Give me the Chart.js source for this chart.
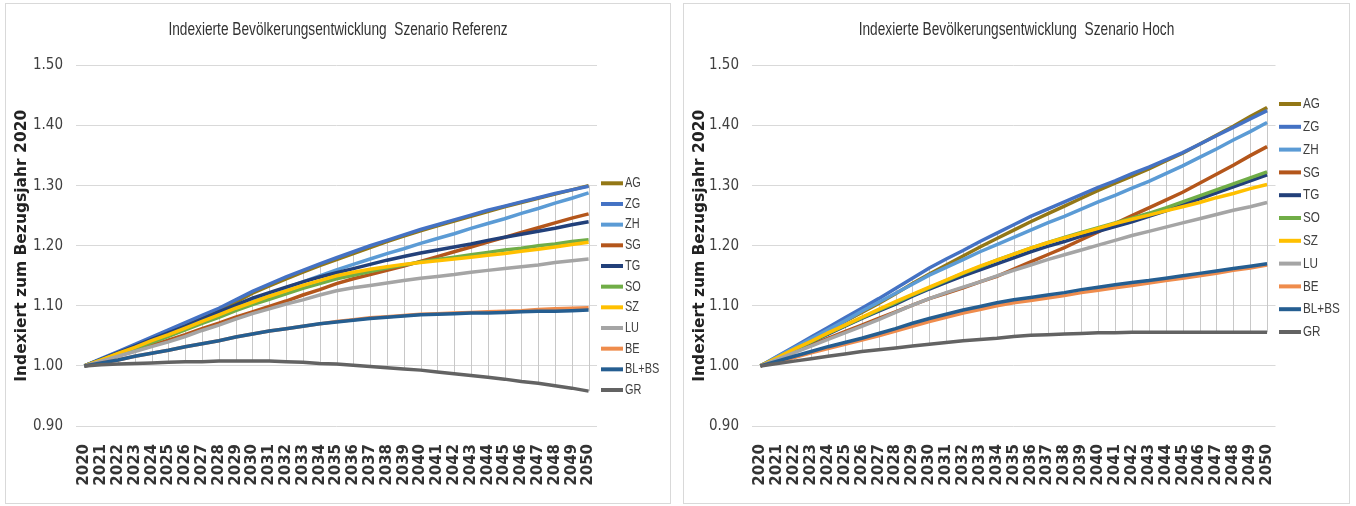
<!DOCTYPE html>
<html>
<head>
<meta charset="utf-8">
<script src="https://cdn.jsdelivr.net/npm/chart.js@4.4.1/dist/chart.umd.min.js"></script>
<style>
  body { margin: 0; background: #fff; width: 1356px; height: 506px; overflow: hidden; position: relative; }
  .panel { position: absolute; top: 3px; border: 1px solid #d9d9d9; background: #fff; }
  #p1 { left: 5px; width: 664px; height: 499px; }
  #p2 { left: 683px; width: 665px; height: 499px; }
  canvas { display: block; }
</style>
</head>
<body>
<div class="panel" id="p1"><canvas id="c1" width="664" height="499"></canvas></div>
<div class="panel" id="p2"><canvas id="c2" width="665" height="499"></canvas></div>
<script>
var years = [];
for (var yr = 2020; yr <= 2050; yr++) years.push(String(yr));

var names = ['AG', 'ZG', 'ZH', 'SG', 'TG', 'SO', 'SZ', 'LU', 'BE', 'BL+BS', 'GR'];
var colors = ['#937716', '#4472c4', '#5b9bd5', '#b4561b', '#22407a', '#70ad47', '#ffc000', '#a5a5a5', '#ef8c4c', '#255e91', '#636363'];
var yTicks = [0.9, 1.0, 1.1, 1.2, 1.3, 1.4, 1.5];

// Szenario Referenz
var refAG = [1.000,1.011,1.022,1.033,1.045,1.057,1.068,1.079,1.091,1.106,1.121,1.133,1.145,1.156,1.167,1.177,1.187,1.197,1.207,1.216,1.225,1.233,1.241,1.249,1.257,1.265,1.272,1.279,1.286,1.293,1.300];
var refZG = [1.000,1.012,1.024,1.036,1.048,1.060,1.072,1.084,1.096,1.110,1.124,1.136,1.148,1.159,1.170,1.180,1.190,1.200,1.209,1.218,1.227,1.235,1.243,1.251,1.259,1.266,1.273,1.280,1.287,1.293,1.299];
var refZH = [1.000,1.010,1.020,1.031,1.041,1.052,1.063,1.074,1.086,1.098,1.110,1.120,1.130,1.140,1.150,1.160,1.169,1.178,1.187,1.195,1.204,1.212,1.220,1.229,1.237,1.245,1.254,1.262,1.271,1.279,1.288];
var refSG = [1.000,1.008,1.017,1.025,1.034,1.043,1.052,1.062,1.071,1.081,1.090,1.099,1.108,1.118,1.127,1.137,1.145,1.152,1.159,1.166,1.174,1.182,1.190,1.198,1.206,1.214,1.222,1.230,1.238,1.246,1.253];
var refTG = [1.000,1.011,1.022,1.033,1.044,1.055,1.066,1.078,1.090,1.101,1.113,1.122,1.131,1.140,1.148,1.155,1.162,1.169,1.176,1.182,1.188,1.193,1.198,1.203,1.209,1.214,1.219,1.224,1.229,1.235,1.240];
var refSO = [1.000,1.010,1.020,1.029,1.039,1.049,1.060,1.071,1.081,1.092,1.102,1.111,1.120,1.129,1.137,1.145,1.151,1.157,1.163,1.168,1.173,1.177,1.181,1.185,1.189,1.193,1.196,1.200,1.203,1.207,1.210];
var refSZ = [1.000,1.010,1.021,1.031,1.042,1.052,1.063,1.074,1.085,1.096,1.106,1.116,1.125,1.134,1.142,1.150,1.156,1.161,1.165,1.169,1.172,1.175,1.178,1.181,1.184,1.187,1.191,1.194,1.198,1.202,1.206];
var refLU = [1.000,1.008,1.016,1.024,1.032,1.040,1.049,1.059,1.068,1.078,1.087,1.095,1.103,1.110,1.118,1.125,1.130,1.134,1.138,1.142,1.146,1.149,1.152,1.156,1.159,1.162,1.165,1.168,1.172,1.175,1.178];
var refBE = [1.000,1.005,1.010,1.016,1.021,1.026,1.032,1.037,1.042,1.048,1.053,1.058,1.062,1.066,1.070,1.074,1.077,1.080,1.082,1.084,1.086,1.087,1.088,1.089,1.090,1.091,1.092,1.094,1.095,1.096,1.097];
var refBLBS = [1.000,1.005,1.010,1.016,1.021,1.026,1.032,1.037,1.042,1.048,1.053,1.058,1.062,1.066,1.070,1.073,1.076,1.079,1.081,1.083,1.085,1.086,1.087,1.088,1.088,1.089,1.090,1.091,1.091,1.092,1.093];
var refGR = [1.000,1.002,1.003,1.004,1.005,1.006,1.007,1.007,1.008,1.008,1.008,1.008,1.007,1.006,1.004,1.003,1.001,0.999,0.997,0.995,0.993,0.990,0.987,0.984,0.981,0.978,0.974,0.971,0.967,0.963,0.958];

// Szenario Hoch
var hochAG = [1.000,1.014,1.029,1.044,1.059,1.074,1.089,1.104,1.120,1.137,1.153,1.168,1.183,1.198,1.212,1.226,1.240,1.253,1.266,1.279,1.292,1.304,1.316,1.328,1.341,1.354,1.369,1.384,1.399,1.415,1.430];
var hochZG = [1.000,1.016,1.032,1.048,1.064,1.080,1.096,1.112,1.129,1.146,1.163,1.178,1.192,1.207,1.221,1.235,1.249,1.261,1.273,1.285,1.297,1.308,1.320,1.331,1.343,1.355,1.369,1.383,1.397,1.411,1.425];
var hochZH = [1.000,1.015,1.030,1.045,1.060,1.075,1.091,1.106,1.121,1.136,1.151,1.164,1.177,1.190,1.202,1.214,1.226,1.238,1.249,1.261,1.273,1.284,1.296,1.307,1.320,1.333,1.347,1.361,1.376,1.390,1.405];
var hochSG = [1.000,1.012,1.024,1.035,1.046,1.057,1.068,1.079,1.090,1.101,1.112,1.121,1.130,1.140,1.149,1.161,1.173,1.185,1.197,1.210,1.223,1.237,1.250,1.263,1.276,1.289,1.304,1.319,1.334,1.350,1.365];
var hochTG = [1.000,1.013,1.027,1.040,1.053,1.066,1.079,1.091,1.103,1.116,1.128,1.139,1.150,1.160,1.170,1.180,1.190,1.199,1.207,1.216,1.224,1.232,1.240,1.249,1.258,1.268,1.278,1.288,1.298,1.308,1.318];
var hochSO = [1.000,1.013,1.027,1.040,1.054,1.067,1.080,1.093,1.105,1.118,1.130,1.142,1.154,1.165,1.176,1.186,1.196,1.205,1.214,1.222,1.230,1.238,1.246,1.254,1.263,1.273,1.283,1.293,1.303,1.313,1.323];
var hochSZ = [1.000,1.014,1.028,1.041,1.055,1.068,1.081,1.094,1.107,1.119,1.131,1.143,1.155,1.166,1.176,1.186,1.196,1.205,1.213,1.221,1.229,1.237,1.244,1.251,1.258,1.265,1.272,1.280,1.287,1.295,1.302];
var hochLU = [1.000,1.011,1.022,1.033,1.044,1.055,1.066,1.077,1.089,1.101,1.112,1.122,1.131,1.140,1.150,1.159,1.168,1.177,1.185,1.193,1.201,1.209,1.217,1.224,1.231,1.238,1.245,1.252,1.259,1.265,1.272];
var hochBE = [1.000,1.007,1.014,1.022,1.029,1.036,1.043,1.050,1.058,1.066,1.074,1.081,1.088,1.094,1.100,1.105,1.109,1.113,1.117,1.122,1.126,1.130,1.134,1.138,1.142,1.146,1.150,1.154,1.159,1.163,1.168];
var hochBLBS = [1.000,1.008,1.016,1.024,1.032,1.039,1.046,1.054,1.062,1.071,1.079,1.086,1.093,1.099,1.105,1.110,1.114,1.118,1.122,1.127,1.131,1.135,1.139,1.142,1.146,1.150,1.154,1.158,1.162,1.166,1.170];
var hochGR = [1.000,1.004,1.008,1.012,1.016,1.020,1.024,1.027,1.030,1.033,1.036,1.039,1.042,1.044,1.046,1.049,1.051,1.052,1.053,1.054,1.055,1.055,1.056,1.056,1.056,1.056,1.056,1.056,1.056,1.056,1.056];

var condensed = "'DejaVu Sans Condensed', 'Liberation Sans Narrow', sans-serif";
var arial = "'Liberation Sans', Arial, sans-serif";

// grey high-low lines between top and bottom series at each year
var hiLo = {
  id: 'hiLo',
  beforeDatasetsDraw: function (chart) {
    var ctx = chart.ctx, xs = chart.scales.x, ys = chart.scales.y;
    ctx.save();
    ctx.strokeStyle = '#c8c8c8';
    ctx.lineWidth = 1;
    chart.data.labels.forEach(function (lab, i) {
      var vals = chart.data.datasets.map(function (d) { return d.data[i]; });
      var px = Math.round(xs.getPixelForValue(i)) + 0.5;
      ctx.beginPath();
      ctx.moveTo(px, ys.getPixelForValue(Math.max.apply(null, vals)));
      ctx.lineTo(px, ys.getPixelForValue(Math.min.apply(null, vals)));
      ctx.stroke();
    });
    ctx.restore();
  }
};

// narrow title centred on the whole panel (the excel font is squeezed)
var narrowTitle = {
  id: 'narrowTitle',
  afterDraw: function (chart, args, opts) {
    var ctx = chart.ctx;
    ctx.save();
    ctx.font = opts.size + 'px ' + arial;
    ctx.fillStyle = '#333';
    ctx.textAlign = 'center';
    ctx.textBaseline = 'middle';
    ctx.translate(chart.width / 2, opts.y);
    ctx.scale(0.76, 1);
    ctx.fillText(opts.text, 0, 0);
    ctx.restore();
  }
};

// legend placed like the excel one
var sideLegend = {
  id: 'sideLegend',
  afterDraw: function (chart, args, opts) {
    var ctx = chart.ctx;
    ctx.save();
    ctx.textBaseline = 'middle';
    ctx.fillStyle = '#404040';
    chart.data.datasets.forEach(function (d, i) {
      var yy = opts.top + i * opts.step;
      ctx.strokeStyle = d.borderColor;
      ctx.lineWidth = 4;
      ctx.beginPath();
      ctx.moveTo(opts.x, yy);
      ctx.lineTo(opts.x + 22, yy);
      ctx.stroke();
      ctx.save();
      ctx.font = opts.size + 'px ' + arial;
      ctx.translate(opts.x + 24, yy);
      ctx.scale(0.78, 1);
      ctx.fillText(d.label, 0, 0);
      ctx.restore();
    });
    ctx.restore();
  }
};

function makeChart(id, titleText, values, cfg) {
  var datasets = names.map(function (n, i) {
    return {
      label: n,
      data: values[i],
      borderColor: colors[i],
      backgroundColor: colors[i],
      borderWidth: 3.5,
      pointRadius: 0,
      tension: 0,
      order: names.length - i
    };
  });
  return new Chart(document.getElementById(id), {
    type: 'line',
    data: { labels: years, datasets: datasets },
    options: {
      responsive: false,
      animation: false,
      devicePixelRatio: 1,
      layout: { padding: { left: 0, right: cfg.padRight, top: 61.5, bottom: 0 } },
      plugins: {
        legend: { display: false },
        tooltip: { enabled: false },
        title: { display: false },
        narrowTitle: { text: titleText, size: 18, y: 26 },
        sideLegend: cfg.legend
      },
      scales: {
        x: {
          offset: true,
          grid: { display: false },
          border: { display: false },
          ticks: {
            autoSkip: false, minRotation: 90, maxRotation: 90, padding: 10,
            color: '#333',
            font: { family: 'DejaVu Sans', weight: 'bold', size: 15 }
          },
          afterFit: function (s) { s.height = 77; }
        },
        y: {
          min: yTicks[0],
          max: yTicks[yTicks.length - 1],
          afterBuildTicks: function (s) { s.ticks = yTicks.map(function (v) { return { value: v }; }); },
          ticks: {
            callback: function (v) { return v.toFixed(2); },
            padding: 13,
            color: '#404040',
            font: { family: condensed, size: 15 }
          },
          grid: { color: '#d9d9d9', drawTicks: false, lineWidth: 1 },
          border: { display: false },
          title: {
            display: true,
            text: 'Indexiert zum Bezugsjahr 2020',
            color: '#222',
            font: { family: 'DejaVu Sans', weight: 'bold', size: 15.5 },
            padding: { top: 7, bottom: 0 }
          },
          afterFit: function (s) { s.width = cfg.yWidth; }
        }
      }
    },
    plugins: [hiLo, narrowTitle, sideLegend]
  });
}

makeChart('c1', 'Indexierte Bevölkerungsentwicklung  Szenario Referenz',
  [refAG, refZG, refZH, refSG, refTG, refSO, refSZ, refLU, refBE, refBLBS, refGR],
  { padRight: 73, yWidth: 70, legend: { x: 595, top: 179.3, step: 20.67, size: 14 } });

makeChart('c2', 'Indexierte Bevölkerungsentwicklung  Szenario Hoch',
  [hochAG, hochZG, hochZH, hochSG, hochTG, hochSO, hochSZ, hochLU, hochBE, hochBLBS, hochGR],
  { padRight: 73.5, yWidth: 68, legend: { x: 595, top: 100, step: 22.8, size: 15 } });
</script>
</body>
</html>
